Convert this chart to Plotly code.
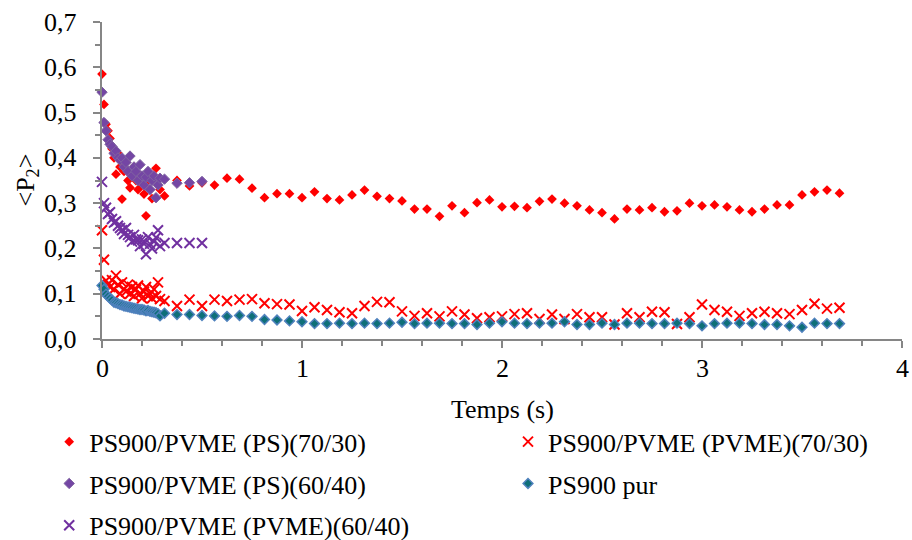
import plotly.graph_objects as go

# Time axis (s): finely sampled start, then one point every 1/16 s
t_dense = [0.00, 0.01, 0.02, 0.03, 0.04, 0.05, 0.06, 0.07, 0.08, 0.09,
           0.10, 0.11, 0.12, 0.13, 0.14, 0.15, 0.16, 0.17, 0.18, 0.19,
           0.20, 0.21, 0.22, 0.23, 0.24, 0.25, 0.26, 0.27, 0.28, 0.29]
t_sparse = [0.3125, 0.375, 0.4375, 0.5, 0.5625, 0.625, 0.6875, 0.75, 0.8125, 0.875,
            0.9375, 1.0, 1.0625, 1.125, 1.1875, 1.25, 1.3125, 1.375, 1.4375, 1.5,
            1.5625, 1.625, 1.6875, 1.75, 1.8125, 1.875, 1.9375, 2.0, 2.0625, 2.125,
            2.1875, 2.25, 2.3125, 2.375, 2.4375, 2.5, 2.5625, 2.625, 2.6875, 2.75,
            2.8125, 2.875, 2.9375, 3.0, 3.0625, 3.125, 3.1875, 3.25, 3.3125, 3.375,
            3.4375, 3.5, 3.5625, 3.625, 3.6875]

# <P2> values
ps_7030 = [0.585, 0.518, 0.474, 0.460, 0.443, 0.420, 0.400, 0.364, 0.410, 0.380,
           0.309, 0.370, 0.390, 0.350, 0.334, 0.360, 0.380, 0.350, 0.330, 0.360,
           0.340, 0.320, 0.272, 0.350, 0.330, 0.310, 0.360, 0.377, 0.340, 0.330,
           0.316, 0.350, 0.338, 0.345, 0.340, 0.355, 0.353, 0.333, 0.312, 0.321,
           0.321, 0.312, 0.325, 0.310, 0.307, 0.318, 0.329, 0.315, 0.310, 0.305,
           0.287, 0.287, 0.271, 0.294, 0.279, 0.301, 0.307, 0.292, 0.293, 0.290,
           0.304, 0.309, 0.300, 0.294, 0.285, 0.279, 0.265, 0.287, 0.285, 0.290,
           0.281, 0.283, 0.300, 0.294, 0.296, 0.292, 0.285, 0.281, 0.287, 0.296,
           0.296, 0.318, 0.325, 0.329, 0.322]

pvme_7030 = [0.240, 0.175, 0.129, 0.120, 0.115, 0.130, 0.110, 0.140, 0.120, 0.100,
             0.125, 0.110, 0.105, 0.120, 0.100, 0.115, 0.095, 0.110, 0.118, 0.100,
             0.090, 0.105, 0.115, 0.095, 0.100, 0.090, 0.110, 0.095, 0.125, 0.088,
             0.084, 0.073, 0.087, 0.073, 0.087, 0.084, 0.087, 0.088, 0.079, 0.077,
             0.076, 0.062, 0.070, 0.064, 0.059, 0.057, 0.073, 0.082, 0.081, 0.061,
             0.051, 0.057, 0.050, 0.061, 0.054, 0.046, 0.048, 0.050, 0.055, 0.057,
             0.044, 0.054, 0.044, 0.055, 0.048, 0.048, 0.032, 0.057, 0.048, 0.060,
             0.059, 0.033, 0.048, 0.076, 0.064, 0.060, 0.051, 0.057, 0.060, 0.057,
             0.055, 0.064, 0.078, 0.067, 0.069]

ps_6040 = [0.545, 0.478, 0.460, 0.440, 0.430, 0.425, 0.410, 0.415, 0.400, 0.395,
           0.400, 0.380, 0.390, 0.370, 0.404, 0.360, 0.380, 0.370, 0.350, 0.385,
           0.360, 0.340, 0.357, 0.370, 0.330, 0.350, 0.360, 0.312, 0.340, 0.355,
           0.353, 0.344, 0.345, 0.348]

ps900_pur = [0.118, 0.110, 0.099, 0.094, 0.090, 0.086, 0.081, 0.080, 0.078, 0.076,
             0.075, 0.073, 0.072, 0.071, 0.070, 0.069, 0.068, 0.067, 0.066, 0.065,
             0.065, 0.064, 0.062, 0.063, 0.061, 0.060, 0.059, 0.058, 0.056, 0.051,
             0.057, 0.054, 0.054, 0.052, 0.051, 0.050, 0.052, 0.050, 0.043, 0.042,
             0.040, 0.038, 0.034, 0.034, 0.035, 0.034, 0.035, 0.034, 0.035, 0.037,
             0.034, 0.035, 0.035, 0.034, 0.034, 0.032, 0.035, 0.038, 0.035, 0.034,
             0.035, 0.035, 0.038, 0.032, 0.032, 0.035, 0.032, 0.035, 0.035, 0.034,
             0.034, 0.035, 0.034, 0.029, 0.034, 0.035, 0.035, 0.034, 0.032, 0.032,
             0.029, 0.026, 0.035, 0.034, 0.034]

pvme_6040 = [0.347, 0.300, 0.290, 0.276, 0.280, 0.265, 0.257, 0.260, 0.250, 0.245,
             0.240, 0.232, 0.245, 0.230, 0.225, 0.215, 0.230, 0.220, 0.218, 0.205,
             0.220, 0.210, 0.187, 0.225, 0.210, 0.200, 0.215, 0.224, 0.240, 0.205,
             0.212, 0.212, 0.212, 0.212]

series_names = ["PS900/PVME (PS)(70/30)", "PS900/PVME (PVME)(70/30)",
                "PS900/PVME (PS)(60/40)", "PS900 pur", "PS900/PVME (PVME)(60/40)"]

# Axis tick labels
x_tick_vals = [0, 1, 2, 3, 4]
x_tick_text = ["0", "1", "2", "3", "4"]
y_tick_vals = [0.0, 0.1, 0.2, 0.3, 0.4, 0.5, 0.6, 0.7]
y_tick_text = ["0,0", "0,1", "0,2", "0,3", "0,4", "0,5", "0,6", "0,7"]

x_title = "Temps (s)"
y_title = "&lt;P<sub>2</sub>&gt;"

t_all = t_dense + t_sparse

FONT = "Liberation Serif, serif"
AXIS_GREY = "#868686"
SERIF_26 = dict(family=FONT, size=26, color="black")

fig = go.Figure()

# (values, marker style, legend column)
styles = [
    (ps_7030, dict(symbol="diamond", size=7.5, color="#FF0000",
                   line=dict(width=0)), "legend"),
    (pvme_7030, dict(symbol="x-thin", size=10, color="#FF0000",
                     line=dict(width=2, color="#FF0000")), "legend2"),
    (ps_6040, dict(symbol="diamond", size=8, color="#7446A4",
                   line=dict(width=1, color="#8064A2")), "legend"),
    (ps900_pur, dict(symbol="diamond", size=7.5, color="#0E6F78",
                     line=dict(width=1.5, color="#4F81BD")), "legend2"),
    (pvme_6040, dict(symbol="x-thin", size=10, color="#7030A0",
                     line=dict(width=2, color="#7030A0")), "legend"),
]

for i, (name, (vals, marker, leg)) in enumerate(zip(series_names, styles)):
    fig.add_trace(go.Scatter(
        x=t_all[:len(vals)], y=vals, name=name, mode="markers",
        marker=marker, cliponaxis=False, legend=leg, legendgroup=f"g{i}",
    ))

legend_common = dict(
    orientation="v", y=-0.25, yanchor="top", xanchor="left",
    traceorder="grouped", tracegroupgap=5,
    font=SERIF_26,
    bgcolor="rgba(0,0,0,0)", itemclick=False, borderwidth=0,
)

axis_common = dict(
    showgrid=False, zeroline=False, showticklabels=False,
    showline=True, linecolor=AXIS_GREY, linewidth=1.5,
    ticks="outside", ticklen=7, tickwidth=1.5, tickcolor=AXIS_GREY,
)

# Tick numbers and axis titles as serif text placed on the axes' own scales
annotations = []
for v, s in zip(x_tick_vals, x_tick_text):
    annotations.append(dict(x=v, xref="x", y=0, yref="paper", text=s,
                            showarrow=False, xanchor="center", yanchor="middle",
                            yshift=-29, font=SERIF_26))
for v, s in zip(y_tick_vals, y_tick_text):
    annotations.append(dict(x=0, xref="paper", y=v, yref="y", text=s,
                            showarrow=False, xanchor="right", yanchor="middle",
                            xshift=-23, font=SERIF_26))
annotations.append(dict(x=0.5, xref="paper", y=0, yref="paper", text=x_title,
                        showarrow=False, xanchor="center", yanchor="middle",
                        yshift=-70, font=SERIF_26))
annotations.append(dict(x=0, xref="paper", y=0.5, yref="paper", text=y_title,
                        showarrow=False, xanchor="center", yanchor="middle",
                        xshift=-76, textangle=-90, font=SERIF_26))

fig.update_layout(
    template="none",
    width=912, height=540,
    margin=dict(l=102, r=10, t=22, b=201, autoexpand=False),
    paper_bgcolor="white", plot_bgcolor="white",
    font=SERIF_26,
    showlegend=True,
    legend=dict(x=-0.066, **legend_common),
    legend2=dict(x=0.5075, **legend_common),
    annotations=annotations,
    xaxis=dict(
        range=[0, 4], tickvals=x_tick_vals,
        minor=dict(dtick=0.2, ticks="outside", ticklen=5, tickwidth=1.5,
                   tickcolor=AXIS_GREY, showgrid=False),
        **axis_common,
    ),
    yaxis=dict(
        range=[0, 0.7], tickvals=y_tick_vals,
        minor=dict(dtick=0.05, ticks="outside", ticklen=5, tickwidth=1.5,
                   tickcolor=AXIS_GREY, showgrid=False),
        **axis_common,
    ),
)

fig.write_html("out.html")
